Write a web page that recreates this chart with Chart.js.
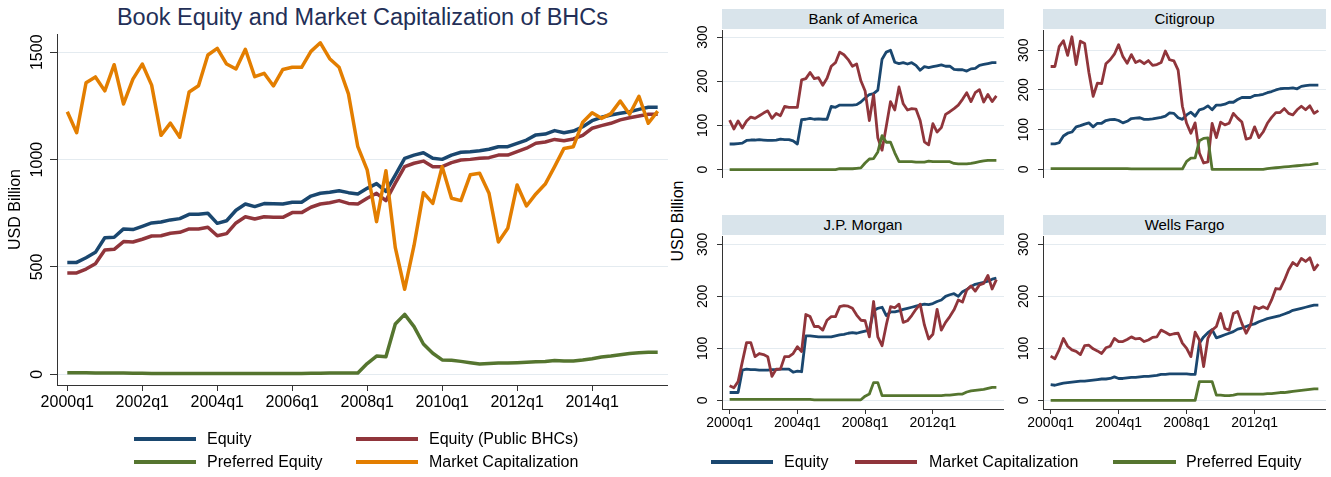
<!DOCTYPE html>
<html>
<head>
<meta charset="utf-8">
<script src="https://cdn.jsdelivr.net/npm/chart.js@4.4.1/dist/chart.umd.min.js"></script>
<style>
  body { margin: 0; background: #fff; width: 1331px; height: 477px; position: relative; overflow: hidden;
         font-family: "Liberation Sans", Arial, Helvetica, sans-serif; color: #000; }
  canvas { position: absolute; }
  .title { position: absolute; left: 0; top: 3px; width: 725px; text-align: center; font-size: 23.5px; line-height: 28px; color: #232f57; }
  .strip { position: absolute; height: 20px; background: #d9e4eb; text-align: center; font-size: 15px; line-height: 20px; }
  .sw { position: absolute; height: 4px; }
  .lt { position: absolute; font-size: 16px; line-height: 20px; white-space: nowrap; }
  .ytitle { position: absolute; width: 120px; height: 20px; line-height: 20px; font-size: 16px; text-align: center; transform: rotate(-90deg); }
</style>
</head>
<body>

<div class="title">Book Equity and Market Capitalization of BHCs</div>
<canvas id="bhc" width="668" height="420" style="left:0;top:0"></canvas>

<div class="strip" style="left:722px;top:9px;width:282px">Bank of America</div>
<div class="strip" style="left:1043px;top:9px;width:283px">Citigroup</div>
<div class="strip" style="left:722px;top:215px;width:282px">J.P. Morgan</div>
<div class="strip" style="left:1043px;top:215px;width:283px">Wells Fargo</div>
<div class="ytitle" style="left:618px;top:211px">USD Billion</div>

<canvas id="bofa" width="316" height="187" style="left:688px;top:16px"></canvas>
<canvas id="citi" width="317" height="187" style="left:1009px;top:16px"></canvas>
<canvas id="jpm" width="316" height="213" style="left:688px;top:222px"></canvas>
<canvas id="wf" width="317" height="213" style="left:1009px;top:222px"></canvas>

<!-- legends -->
<div class="sw" style="left:134px;top:437px;width:62px;background:#1a476f"></div>
<div class="lt" style="left:207px;top:429px">Equity</div>
<div class="sw" style="left:356px;top:437px;width:62px;background:#90353b"></div>
<div class="lt" style="left:429px;top:429px">Equity (Public BHCs)</div>
<div class="sw" style="left:134px;top:460px;width:62px;background:#55752f"></div>
<div class="lt" style="left:207px;top:452px">Preferred Equity</div>
<div class="sw" style="left:356px;top:460px;width:62px;background:#e37e00"></div>
<div class="lt" style="left:429px;top:452px">Market Capitalization</div>

<div class="sw" style="left:711px;top:460px;width:62px;background:#1a476f"></div>
<div class="lt" style="left:784px;top:452px">Equity</div>
<div class="sw" style="left:855px;top:460px;width:62px;background:#90353b"></div>
<div class="lt" style="left:929px;top:452px">Market Capitalization</div>
<div class="sw" style="left:1113px;top:460px;width:63px;background:#55752f"></div>
<div class="lt" style="left:1186px;top:452px">Preferred Equity</div>

<script>
// quarters 2000q1 .. 2015q4
const quarters = [];
for (let y = 2000; y <= 2015; y++) {
  for (let q = 1; q <= 4; q++) quarters.push(y + "q" + q);
}

const bigXTicks = ["2000q1", "2002q1", "2004q1", "2006q1", "2008q1", "2010q1", "2012q1", "2014q1"];
const bigYTicks = [0, 500, 1000, 1500];
const smallXTicks = ["2000q1", "2004q1", "2008q1", "2012q1"];
const smallYTicks = [0, 100, 200, 300];

/* ===== all BHCs (USD bn) ===== */
const bhcEquity = [521,521,543,568,636,638,677,674,689,705, 709,719,725,745,745,750,703,715,764,793,
  781,795,794,793,801,801,830,843,848,855, 846,840,866,888,852,928,1006,1021,1032,1006,
  1001,1021,1034,1037,1041,1048,1060,1060,1076,1091, 1115,1119,1135,1125,1133,1153,1181,1197,1208,1216,
  1223,1234,1244,1244];
const bhcPublic = [472,472,490,515,579,582,618,616,629,644, 645,657,661,677,677,685,645,655,705,734,
  723,734,731,731,753,753,778,793,799,809, 796,793,820,843,809,890,967,983,993,967,
  967,986,998,1001,1006,1009,1021,1021,1037,1053, 1076,1082,1094,1088,1096,1113,1146,1158,1169,1185,
  1195,1203,1211,1211];
const bhcPreferred = [7,7,7,6,6,6,6,5, 5,4,4,4,4,4,4,4, 4,4,3,3,3,3,3,3, 4,4,5,5,6,6,6,6,
  50,85,82,234,279,222,141,98, 67,65,60,54,48,50,52,52, 54,56,58,60,64,62,62,66, 72,80,85,91,97,100,102,102];
const bhcMktCap = [1223,1125,1358,1385,1320,1442,1259,1375,1445,1347, 1113,1170,1104,1315,1344,1487,1518,1445,1422,1514,
  1386,1402,1343,1420,1430,1430,1504,1544,1470,1430, 1306,1060,952,711,948,590,396,600,846,796,
  967,820,809,929,936,843,616,680,882,784, 840,886,967,1052,1060,1174,1218,1192,1214,1273,
  1211,1295,1169,1226];

/* ===== Bank of America ===== */
const bofaEquity = [58,58,59,60,66,67,67,68,67,66, 66,67,69,68,68,65,58,113,114,116,
  114,115,114,114,143,141,146,146,146,146, 147,153,162,170,172,180,250,266,270,243,
  240,242,239,242,236,225,233,231,233,235, 237,234,234,227,226,226,223,228,229,236,
  238,240,242,242];
const bofaMktCap = [112,92,110,94,110,119,116,122,128,133, 116,127,122,143,141,141,141,203,206,220,
  206,208,191,207,234,242,266,260,249,234, 239,201,178,111,170,72,44,98,154,135,
  187,149,135,138,137,111,63,56,104,85, 95,125,131,138,146,159,174,154,174,181,
  153,170,154,167];
const bofaPreferred = [0,0,0,0,0,0,0,0,0,0, 0,0,0,0,0,0,0,0,0,0, 0,0,0,0,0,0,2,2,2,2,
  3,4,15,24,25,40,77,62,62,38, 18,18,18,18,17,17,17,19,18,18, 18,18,18,14,13,13,13,14,16,18,
  20,21,21,21];

/* ===== Citigroup ===== */
const citiEquity = [64,64,67,84,91,94,107,110,114,117, 107,116,116,123,125,126,123,117,121,128,
  129,130,126,126,127,129,131,134,142,141, 130,126,137,144,134,150,153,160,150,162,
  162,164,169,169,176,181,181,181,186,187, 189,193,196,200,203,204,204,205,203,209,
  211,212,212,212];
const citiMktCap = [259,259,309,324,287,334,264,323,317,244, 184,217,216,266,276,290,314,284,267,289,
  269,274,266,274,262,264,269,298,276,273, 250,159,116,91,117,41,16,19,116,80,
  119,112,116,141,129,119,76,79,107,80, 94,116,131,143,143,153,141,137,150,159,
  150,160,141,148];
const citiPreferred = [2,2,2,2,2,2,2,2,2,2, 2,2,2,2,2,2,2,2,2,1, 1,1,1,1,1,1,1,1,1,1,
  1,1,20,28,29,72,78,79,0,0, 0,0,0,0,0,0,0,0,0,0, 0,2,3,4,5,6,7,8,9,10,
  11,12,14,15];

/* ===== J.P. Morgan ===== */
const jpmEquity = [15,15,15,58,60,59,59,58,58,58, 59,59,60,60,60,54,56,55,124,124,
  123,122,122,122,122,124,126,127,129,130, 129,131,133,135,172,177,179,163,170,170,
  172,175,177,179,181,183,185,184,186,190, 193,200,203,205,200,209,213,219,223,225,
  227,229,233,235];
const jpmMktCap = [28,24,36,74,111,111,84,90,88,84, 46,60,60,84,84,90,103,94,165,161,
  142,142,135,154,161,161,180,182,181,177, 164,154,153,122,190,122,105,145,180,178,
  185,150,153,163,175,185,145,118,127,175, 135,150,161,174,193,189,212,220,210,222,
  225,240,214,232];
const jpmPreferred = [2,2,2,2,2,2,2,2,2,2, 2,2,2,2,2,2,2,2,2,2, 1,1,1,1,1,1,1,1,1,1,
  1,1,8,12,34,34,9,9,9,9, 9,9,9,9,9,9,9,9,9,9, 9,10,10,11,12,12,16,18,19,20,
  21,23,25,25];

/* ===== Wells Fargo ===== */
const wfEquity = [30,29,31,33,34,35,36,37,37,38, 39,40,41,41,42,45,42,42,43,44,
  44,45,46,46,47,48,50,50,51,51, 51,51,51,50,50,110,122,130,136,120,
  123,126,129,132,137,139,142,145,147,151, 154,157,159,161,163,166,169,173,175,177,
  179,181,183,183];
const wfMktCap = [85,80,97,119,104,97,94,88,105,106, 99,95,90,101,104,119,113,113,117,122,
  118,119,113,116,121,122,135,131,126,128, 129,110,100,84,131,116,65,119,135,142,
  167,138,135,167,171,148,129,144,180,176, 180,176,193,215,214,231,251,265,259,273,
  267,274,251,262];
const wfPreferred = [0,0,0,0,0,0,0,0,0,0, 0,0,0,0,0,0,0,0,0,0, 0,0,0,0,0,0,0,0,0,0,
  0,0,0,0,0,36,36,36,36,10, 10,9,9,10,12,12,12,12,12,12, 12,13,13,14,15,15,16,17,18,19,
  20,21,22,22];

/* ================= CHARTS ================= */

const NAVY = "#1a476f", MAROON = "#90353b", GREEN = "#55752f", ORANGE = "#e37e00";
const AXIS = "#333", GRID = "#e4ebf0";

Chart.defaults.font.family = '"Liberation Sans", Arial, Helvetica, sans-serif';
Chart.defaults.color = "#000";

function series(label, vals, color, order, width) {
  return {
    label,
    data: vals.map((v, i) => ({ x: i, y: v })),
    borderColor: color,
    backgroundColor: color,
    borderWidth: width,
    borderJoinStyle: "round",
    pointRadius: 0,
    tension: 0,
    fill: false,
    order
  };
}

function fixedTicks(values) {
  return scale => { scale.ticks = values.map(v => ({ value: v })); };
}

function xScale(opt) {
  return {
    type: "linear",
    display: opt.show,
    min: opt.min, max: opt.max, bounds: "data",
    afterBuildTicks: fixedTicks(opt.ticks.map(l => quarters.indexOf(l))),
    afterFit: s => { s.height = opt.height; s.paddingLeft = 0; s.paddingRight = 0; },
    ticks: { callback: v => quarters[v], font: { size: opt.font }, color: "#000",
             padding: opt.pad, maxRotation: 0, minRotation: 0, autoSkip: false },
    grid: { drawOnChartArea: false, tickLength: opt.tick, tickColor: AXIS, tickWidth: 1 },
    border: { color: AXIS, width: 1 }
  };
}

function yScale(opt) {
  return {
    min: opt.min, max: opt.max, bounds: "data",
    afterBuildTicks: fixedTicks(opt.ticks),
    afterFit: s => { s.width = opt.width; s.paddingTop = 0; s.paddingBottom = 0; },
    ticks: { callback: v => String(v), font: { size: opt.font }, color: "#000",
             minRotation: 90, maxRotation: 90, crossAlign: "center", padding: opt.pad, autoSkip: false },
    grid: { color: GRID, lineWidth: 1, tickColor: AXIS, tickLength: opt.tick },
    border: { color: AXIS, width: 1 },
    title: opt.title
      ? { display: true, text: opt.title, font: { size: 16 }, color: "#000", padding: { top: 5.5, bottom: 0 } }
      : { display: false }
  };
}

new Chart(document.getElementById("bhc"), {
  type: "line",
  data: {
    datasets: [
      series("Equity", bhcEquity, NAVY, 4, 3.5),
      series("Equity (Public BHCs)", bhcPublic, MAROON, 3, 3.5),
      series("Preferred Equity", bhcPreferred, GREEN, 2, 3.5),
      series("Market Capitalization", bhcMktCap, ORANGE, 1, 3.5)
    ]
  },
  options: {
    responsive: false,
    animation: false,
    layout: { padding: { left: 0, right: 0, top: 34, bottom: 0 } },
    plugins: { legend: { display: false }, tooltip: { enabled: false } },
    scales: {
      x: xScale({ show: true, min: -1.1, max: 64.1, ticks: bigXTicks, height: 35, font: 16, pad: 2, tick: 6 }),
      y: yScale({ min: -50, max: 1585, ticks: bigYTicks, width: 57, font: 16, pad: -5.3, tick: 7, title: "USD Billion" })
    }
  }
});

function bankChart(id, eq, mc, pf, yMin, yMax, showX) {
  new Chart(document.getElementById(id), {
    type: "line",
    data: {
      datasets: [
        series("Equity", eq, NAVY, 3, 2.8),
        series("Market Capitalization", mc, MAROON, 2, 2.8),
        series("Preferred Equity", pf, GREEN, 1, 2.8)
      ]
    },
    options: {
      responsive: false,
      animation: false,
      // extra top room so the rotated "300" label is not cut
      layout: { padding: { top: 14, left: 0, right: 0, bottom: 0 } },
      plugins: { legend: { display: false }, tooltip: { enabled: false } },
      scales: {
        x: xScale({ show: showX, min: -1.8, max: 64.8, ticks: smallXTicks, height: 26, font: 14, pad: 0.6, tick: 5 }),
        y: yScale({ min: yMin, max: yMax, ticks: smallYTicks, width: 34, font: 14, pad: 2, tick: 5 })
      }
    }
  });
}

bankChart("bofa", bofaEquity, bofaMktCap, bofaPreferred, -16.7, 316, false);
bankChart("citi", citiEquity, citiMktCap, citiPreferred, -19.3, 351, false);
bankChart("jpm", jpmEquity, jpmMktCap, jpmPreferred, -16.7, 316, true);
bankChart("wf", wfEquity, wfMktCap, wfPreferred, -16.7, 316, true);
</script>
</body>
</html>
